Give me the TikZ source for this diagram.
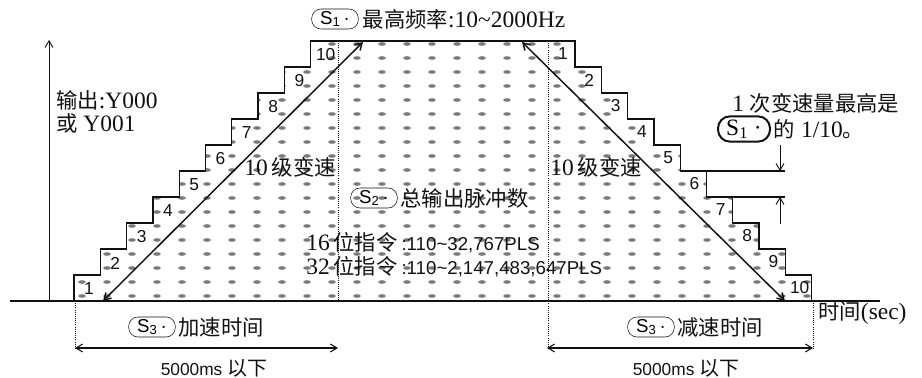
\documentclass[tikz,border=0pt]{standalone}
\usepackage{fontspec}
\setmainfont{Liberation Serif}[Scale=1.1]
\setsansfont{Liberation Sans}
\newfontfamily\zhfont{Noto Sans CJK SC}
\newcommand{\zh}[1]{{\zhfont #1}}
\usetikzlibrary{arrows.meta, positioning, calc}
\definecolor{ink}   {HTML}{111111}
\definecolor{dither}{HTML}{7A7A7A}

% staircase outline in pixel units (y runs downwards)
\newcommand{\stairs}{(74,301)
  \foreach \i in {0,...,9} {-- (74+26.3*\i,275-26*\i) -- (100.3+26.3*\i,275-26*\i)}
  \foreach \i in {0,...,9} {-- (575+26.3*\i,41+26*\i) -- (575+26.3*\i,67+26*\i)}
  -- cycle}
\newcommand{\sop}[1]{S\textsubscript{#1}\,\textperiodcentered}

\begin{document}
\begin{tikzpicture}[x=0.75pt, y=-0.75pt,
    sopbox/.style={draw=ink, rounded corners=7pt, inner xsep=2pt, inner ysep=0pt,
                   minimum width=35pt, minimum height=15pt,
                   font=\sffamily\fontsize{14}{14}\selectfont},
    txt/.style={text=ink, inner sep=0pt, font=\fontsize{16}{19}\selectfont},
    numtxt/.style={text=ink, inner sep=0pt, font=\sffamily\fontsize{13}{13}\selectfont},
    smalltxt/.style={text=ink, inner sep=0pt, font=\sffamily\fontsize{13}{14}\selectfont},
    ramp/.style={{Straight Barb[length=5pt,width=6pt]}-{Straight Barb[length=5pt,width=6pt]},
                 line width=1.1pt, ink},
    dimflow/.style={{Straight Barb[length=5pt,width=6pt]}-{Straight Barb[length=5pt,width=6pt]},
                    line width=0.8pt, ink},
    pin/.style={-{Straight Barb[length=5pt,width=6pt]}, line width=0.7pt, ink},
    extline/.style={densely dotted, line width=0.6pt, ink}
  ]
    \useasboundingbox (0,0) rectangle (922,378);

    % dithered fill of the pulse staircase
    \begin{scope}
      \clip \stairs;
      \foreach \c in {0,...,29}
        \foreach \r in {0,...,18}
          \fill[dither] (82+25*\c, 296-14*\r) ellipse (3.8 and 1.8);
    \end{scope}
    \draw[ink, line width=1pt] \stairs;

    % axes
    \coordinate (xleft)  at (10,301);
    \coordinate (xright) at (880,301);
    \coordinate (yorg)   at (49,301);
    \coordinate (ytop)   at (49,40);
    \draw[ink, line width=1pt] (xleft) -- (xright);
    \draw[pin] (yorg) -- (ytop);

    % ends of acceleration / deceleration
    \coordinate (accend) at (338,41);
    \coordinate (accendb) at (338,301);
    \coordinate (decbeg) at (548,41);
    \coordinate (decbegb) at (548,350);
    \coordinate (accbeg) at (75,301);
    \coordinate (accbegb) at (75,350);
    \coordinate (decend) at (813,301);
    \coordinate (decendb) at (813,350);
    \draw[extline] (accend) -- (accendb);
    \draw[extline] (decbeg) -- (decbegb);
    \draw[extline] (accbeg) -- (accbegb);
    \draw[extline] (decend) -- (decendb);

    % ramps
    \coordinate (accbot) at (103,301);
    \coordinate (acctop) at (363,42);
    \coordinate (dectop) at (522,42);
    \coordinate (decbot) at (785,301);
    \draw[ramp] (accbot) -- (acctop);
    \draw[ramp] (dectop) -- (decbot);

    % step numbers
    \foreach \k in {1,...,10} {
      \node[numtxt] (up\k) at (89+26.3*\k-26.3, 289-26*\k+26) {\k};
      \node[numtxt] (dn\k) at (563+26.3*\k-26.3, 54+26*\k-26) {\k};
    }

    % one step of the deceleration
    \coordinate (st5) at (707,171);
    \coordinate (st6) at (733,197);
    \coordinate (gd1) at (785,171);
    \coordinate (gd2) at (785,197);
    \coordinate (pa)  at (780,145);
    \coordinate (pb)  at (780,171);
    \coordinate (pc)  at (780,224);
    \coordinate (pd)  at (780,197);
    \draw[ink, line width=0.8pt] (st5) -- (gd1);
    \draw[ink, line width=0.8pt] (st6) -- (gd2);
    \draw[pin] (pa) -- (pb);
    \draw[pin] (pc) -- (pd);

    % labels
    \node[sopbox] (s1top) at (335,19) {\sop{1}};
    \node[txt, right=3pt of s1top] (fmax) {\zh{最高频率}:10\textasciitilde2000Hz};

    \node[txt, anchor=west] (outa) at (56,100) {\zh{输出}:Y000};
    \node[txt, anchor=west] (outb) at (56,123) {\zh{或} Y001};

    \node[txt] (lvl1) at (290,167) {10\,\zh{级变速}};
    \node[txt] (lvl2) at (596,167) {10\,\zh{级变速}};

    \node[sopbox] (s2) at (374,198) {\sop{2}};
    \node[txt, right=2pt of s2] (total) {\zh{总输出脉冲数}};
    \node[txt, anchor=west] (b16) at (306,243)
      {16\,\zh{位指令}\,{\sffamily\fontsize{14}{16}\selectfont :110\textasciitilde32,767PLS}};
    \node[txt, anchor=west] (b32) at (306,267)
      {32\,\zh{位指令}\,{\sffamily\fontsize{14}{16}\selectfont :110\textasciitilde2,147,483,647PLS}};

    \node[txt, anchor=west] (ratio) at (732,103) {1 \zh{次变速量最高是}};
    \node[sopbox, line width=1.5pt, rounded corners=9pt, minimum width=39pt, minimum height=19pt,
          font=\fontsize{16}{16}\selectfont] (s1r) at (744,129) {S\textsubscript{1}\ \textperiodcentered};
    \node[txt, right=2pt of s1r] (tenth) {\zh{的} 1/10\zh{。}};

    \node[sopbox] (s3a) at (152,327) {\sop{3}};
    \node[txt, right=2pt of s3a] (tacc) {\zh{加速时间}};
    \node[sopbox] (s3b) at (651,327) {\sop{3}};
    \node[txt, right=2pt of s3b] (tdec) {\zh{减速时间}};
    \node[txt, anchor=west] (tsec) at (818,313) {\zh{时间}(sec)};

    \coordinate (da1) at (75,348);
    \coordinate (da2) at (338,348);
    \coordinate (db1) at (547,348);
    \coordinate (db2) at (813,348);
    \draw[dimflow] (da1) -- (da2);
    \draw[dimflow] (db1) -- (db2);
    \node[smalltxt] (lima) at (214,368) {5000ms \zh{\fontsize{15}{15}\selectfont 以下}};
    \node[smalltxt] (limb) at (686,368) {5000ms \zh{\fontsize{15}{15}\selectfont 以下}};
  \end{tikzpicture}
\end{document}
